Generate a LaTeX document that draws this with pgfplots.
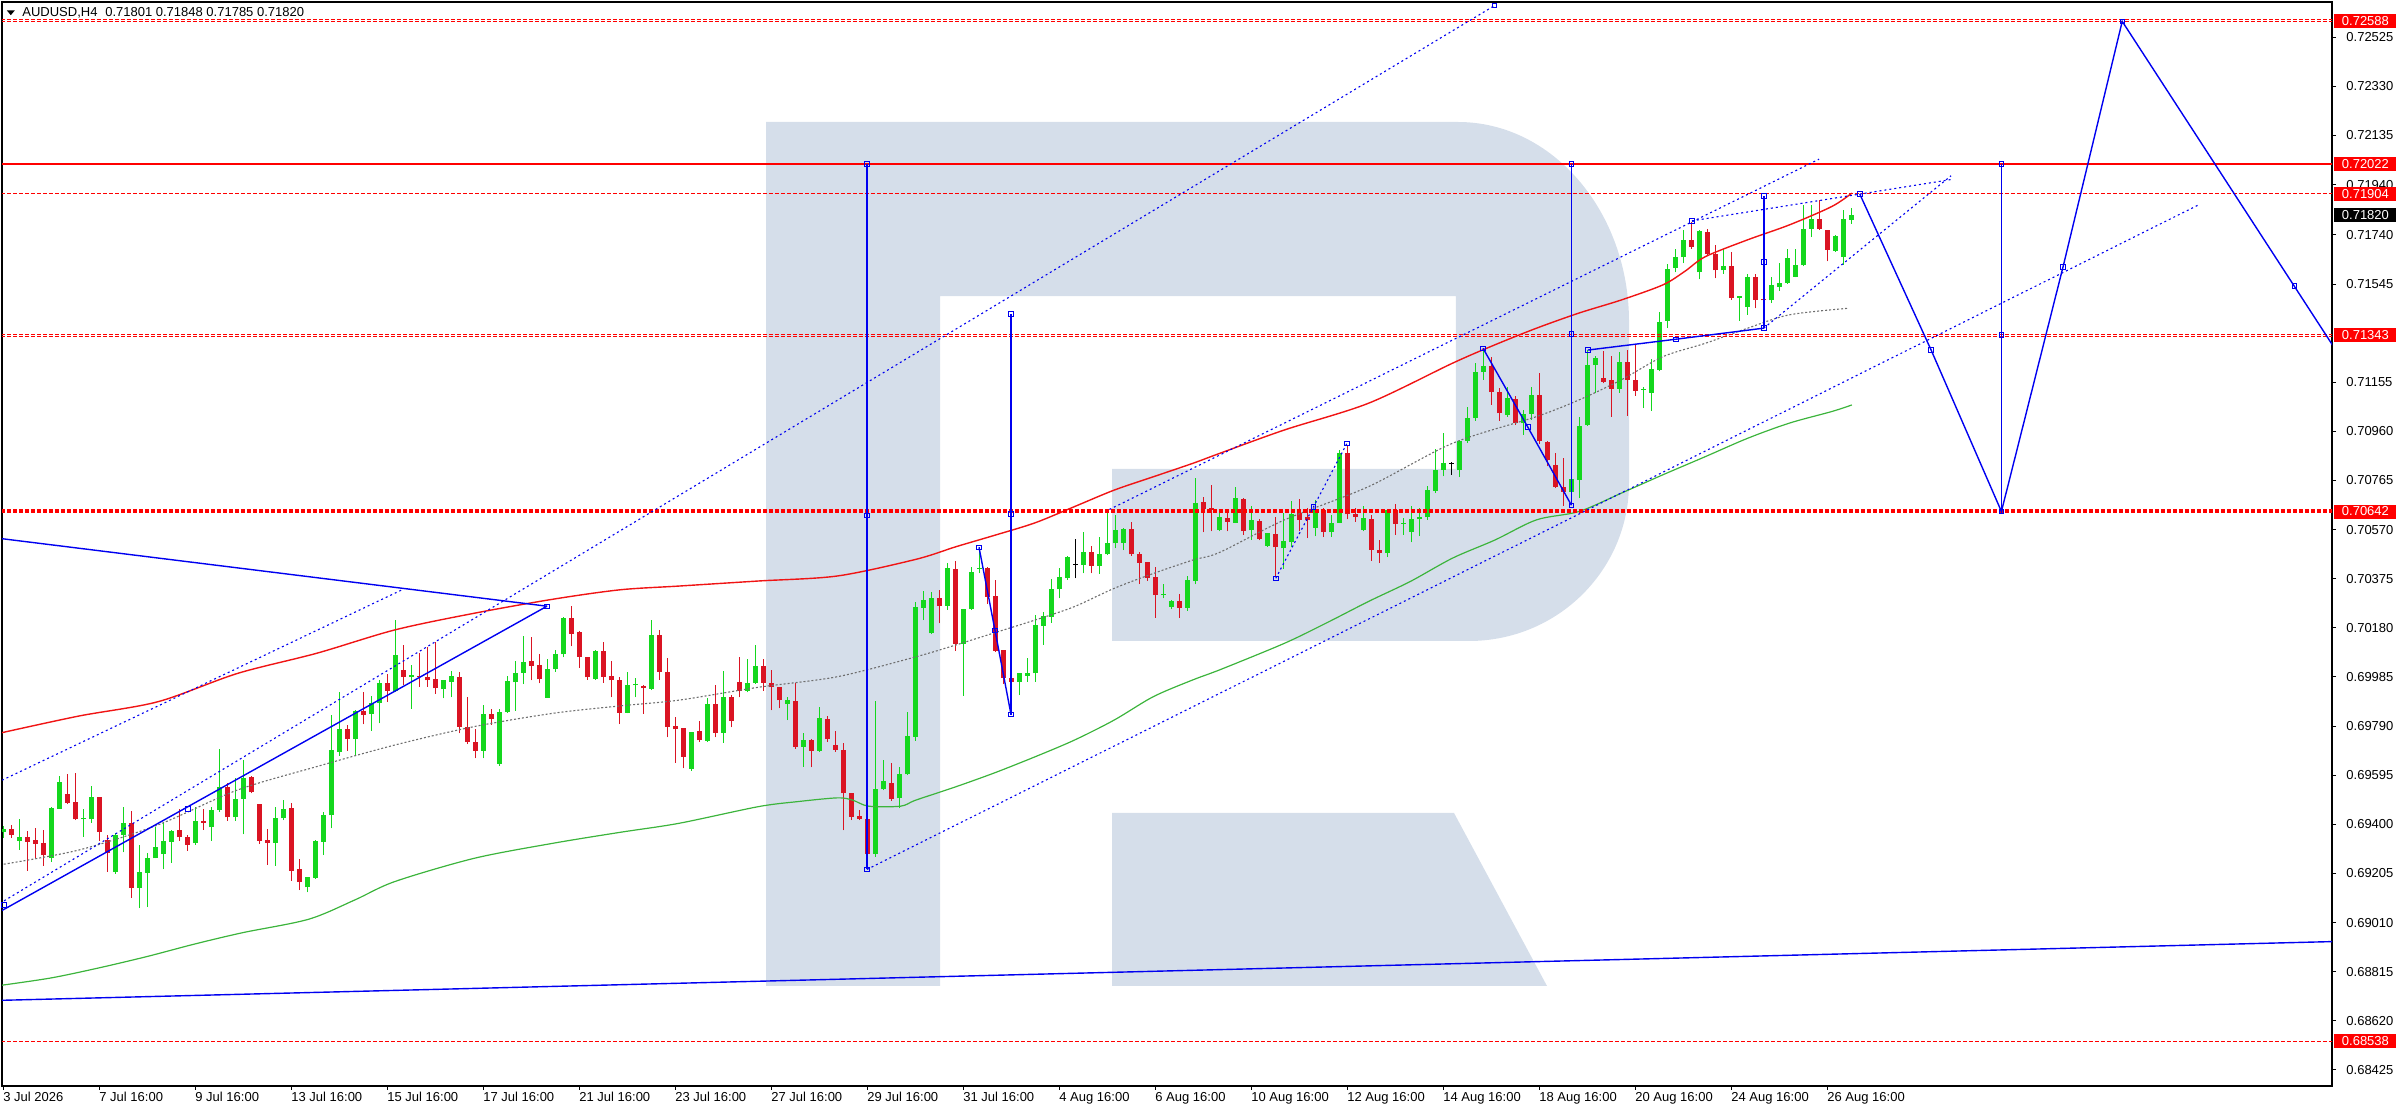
\documentclass[border=0pt]{standalone}
\usepackage{pgfplots}
\pgfplotsset{compat=1.18}
\usepackage{pgfplotstable}
\usepackage{fontspec}
\setmainfont{Liberation Sans}

\definecolor{bull}{RGB}{20,215,30}
\definecolor{bear}{RGB}{218,20,35}
\definecolor{mared}{RGB}{240,20,20}
\definecolor{magreen}{RGB}{60,180,60}
\definecolor{magray}{RGB}{110,110,110}
\definecolor{obj}{RGB}{0,0,240}
\definecolor{logo}{RGB}{213,222,234}
\definecolor{lvl}{RGB}{255,0,0}

\newcommand\lbl{\fontsize{6.5bp}{7.5bp}\selectfont}

% H4 candles: bar index, open, high, low, close
\pgfplotstableread{
i o h l c
0 0.69371 0.69394 0.69345 0.69382
1 0.69380 0.69397 0.69345 0.69359
2 0.69333 0.69421 0.69298 0.69349
3 0.69350 0.69374 0.69216 0.69331
4 0.69338 0.69384 0.69265 0.69323
5 0.69326 0.69378 0.69236 0.69277
6 0.69265 0.69470 0.69252 0.69465
7 0.69462 0.69593 0.69462 0.69568
8 0.69521 0.69600 0.69480 0.69484
9 0.69489 0.69603 0.69417 0.69420
10 0.69420 0.69460 0.69351 0.69421
11 0.69420 0.69554 0.69407 0.69510
12 0.69509 0.69509 0.69335 0.69371
13 0.69337 0.69358 0.69212 0.69288
14 0.69212 0.69367 0.69203 0.69358
15 0.69358 0.69470 0.69289 0.69405
16 0.69405 0.69453 0.69109 0.69149
17 0.69149 0.69318 0.69067 0.69212
18 0.69208 0.69285 0.69071 0.69265
19 0.69265 0.69391 0.69265 0.69311
20 0.69282 0.69411 0.69221 0.69334
21 0.69331 0.69378 0.69248 0.69374
22 0.69378 0.69461 0.69335 0.69349
23 0.69350 0.69358 0.69296 0.69319
24 0.69325 0.69470 0.69318 0.69413
25 0.69413 0.69461 0.69379 0.69407
26 0.69388 0.69470 0.69335 0.69457
27 0.69457 0.69701 0.69450 0.69548
28 0.69547 0.69563 0.69415 0.69428
29 0.69428 0.69583 0.69415 0.69501
30 0.69501 0.69656 0.69360 0.69584
31 0.69587 0.69593 0.69523 0.69527
32 0.69481 0.69481 0.69322 0.69334
33 0.69338 0.69382 0.69239 0.69325
34 0.69327 0.69470 0.69236 0.69424
35 0.69424 0.69497 0.69417 0.69460
36 0.69465 0.69486 0.69176 0.69216
37 0.69223 0.69262 0.69139 0.69170
38 0.69150 0.69192 0.69130 0.69190
39 0.69188 0.69338 0.69183 0.69335
40 0.69329 0.69450 0.69278 0.69437
41 0.69435 0.69834 0.69384 0.69695
42 0.69689 0.69924 0.69673 0.69779
43 0.69779 0.69795 0.69693 0.69738
44 0.69738 0.69854 0.69675 0.69850
45 0.69850 0.69924 0.69797 0.69836
46 0.69837 0.69911 0.69772 0.69882
47 0.69881 0.69973 0.69801 0.69961
48 0.69961 0.69997 0.69887 0.69931
49 0.69931 0.70211 0.69927 0.70073
50 0.70012 0.70110 0.69953 0.69984
51 0.69984 0.70033 0.69858 0.69992
52 0.69989 0.70079 0.69947 0.69984
53 0.69985 0.70103 0.69947 0.69971
54 0.69977 0.70123 0.69918 0.69940
55 0.69936 0.69973 0.69900 0.69972
56 0.69967 0.70010 0.69904 0.69989
57 0.69985 0.70004 0.69761 0.69788
58 0.69788 0.69904 0.69718 0.69726
59 0.69726 0.69779 0.69662 0.69693
60 0.69693 0.69874 0.69662 0.69837
61 0.69837 0.69857 0.69795 0.69818
62 0.69640 0.69857 0.69632 0.69845
63 0.69845 0.69990 0.69841 0.69969
64 0.69964 0.70047 0.69851 0.70000
65 0.70002 0.70149 0.69957 0.70046
66 0.70047 0.70145 0.69971 0.70030
67 0.70033 0.70076 0.69960 0.69975
68 0.69903 0.70055 0.69903 0.70016
69 0.70016 0.70092 0.70006 0.70075
70 0.70075 0.70225 0.70063 0.70221
71 0.70218 0.70267 0.70106 0.70157
72 0.70164 0.70169 0.70022 0.70066
73 0.70066 0.70066 0.69973 0.69983
74 0.69977 0.70092 0.69973 0.70088
75 0.70088 0.70122 0.69963 0.69986
76 0.69987 0.70048 0.69904 0.69971
77 0.69971 0.69986 0.69798 0.69842
78 0.69842 0.70006 0.69840 0.69953
79 0.69952 0.69979 0.69904 0.69959
80 0.69948 0.69952 0.69838 0.69940
81 0.69938 0.70211 0.69933 0.70151
82 0.70150 0.70171 0.69973 0.70006
83 0.70006 0.70059 0.69745 0.69787
84 0.69790 0.69827 0.69644 0.69777
85 0.69782 0.69783 0.69622 0.69668
86 0.69619 0.69768 0.69613 0.69766
87 0.69769 0.69811 0.69728 0.69733
88 0.69731 0.69900 0.69728 0.69876
89 0.69877 0.69953 0.69745 0.69764
90 0.69764 0.70008 0.69724 0.69905
91 0.69905 0.69913 0.69785 0.69811
92 0.69965 0.70063 0.69904 0.69930
93 0.69930 0.70055 0.69924 0.69963
94 0.69962 0.70110 0.69959 0.70027
95 0.70028 0.70056 0.69930 0.69962
96 0.69963 0.70012 0.69852 0.69944
97 0.69945 0.69945 0.69860 0.69892
98 0.69877 0.69904 0.69814 0.69893
99 0.69889 0.69963 0.69701 0.69708
100 0.69708 0.69761 0.69629 0.69734
101 0.69734 0.69740 0.69626 0.69692
102 0.69692 0.69864 0.69688 0.69821
103 0.69817 0.69831 0.69728 0.69737
104 0.69713 0.69772 0.69688 0.69697
105 0.69697 0.69724 0.69376 0.69523
106 0.69523 0.69523 0.69417 0.69430
107 0.69433 0.69457 0.69417 0.69421
108 0.69423 0.69423 0.69221 0.69284
109 0.69284 0.69888 0.69271 0.69539
110 0.69539 0.69655 0.69536 0.69572
111 0.69566 0.69642 0.69494 0.69500
112 0.69503 0.69629 0.69463 0.69599
113 0.69598 0.69846 0.69595 0.69750
114 0.69748 0.70284 0.69732 0.70261
115 0.70260 0.70327 0.70211 0.70290
116 0.70158 0.70321 0.70155 0.70297
117 0.70297 0.70330 0.70198 0.70268
118 0.70268 0.70439 0.70251 0.70417
119 0.70413 0.70447 0.70089 0.70116
120 0.70116 0.70255 0.69911 0.70253
121 0.70253 0.70423 0.70251 0.70400
122 0.70413 0.70500 0.70396 0.70416
123 0.70417 0.70423 0.70274 0.70304
124 0.70306 0.70372 0.70085 0.70089
125 0.70092 0.70094 0.69959 0.69982
126 0.69982 0.69986 0.69836 0.69966
127 0.69966 0.70002 0.69913 0.69999
128 0.69990 0.70059 0.69966 0.69999
129 0.69999 0.70233 0.69966 0.70191
130 0.70187 0.70241 0.70112 0.70227
131 0.70224 0.70374 0.70200 0.70334
132 0.70333 0.70416 0.70297 0.70382
133 0.70376 0.70465 0.70372 0.70462
134 0.70432 0.70531 0.70376 0.70432
135 0.70429 0.70562 0.70396 0.70482
136 0.70481 0.70505 0.70396 0.70427
137 0.70427 0.70539 0.70394 0.70472
138 0.70472 0.70645 0.70469 0.70517
139 0.70515 0.70628 0.70496 0.70568
140 0.70518 0.70575 0.70489 0.70572
141 0.70571 0.70601 0.70466 0.70472
142 0.70472 0.70482 0.70354 0.70439
143 0.70440 0.70443 0.70367 0.70379
144 0.70382 0.70420 0.70220 0.70310
145 0.70312 0.70353 0.70297 0.70313
146 0.70264 0.70290 0.70253 0.70286
147 0.70286 0.70314 0.70220 0.70260
148 0.70260 0.70386 0.70248 0.70370
149 0.70367 0.70775 0.70353 0.70676
150 0.70678 0.70701 0.70559 0.70651
151 0.70654 0.70748 0.70563 0.70646
152 0.70569 0.70649 0.70563 0.70622
153 0.70618 0.70651 0.70563 0.70602
154 0.70598 0.70739 0.70596 0.70695
155 0.70692 0.70695 0.70549 0.70563
156 0.70567 0.70662 0.70529 0.70609
157 0.70606 0.70611 0.70527 0.70532
158 0.70506 0.70556 0.70503 0.70556
159 0.70553 0.70622 0.70384 0.70500
160 0.70496 0.70635 0.70413 0.70523
161 0.70519 0.70684 0.70500 0.70633
162 0.70635 0.70691 0.70563 0.70609
163 0.70622 0.70655 0.70536 0.70609
164 0.70578 0.70686 0.70543 0.70646
165 0.70646 0.70655 0.70540 0.70560
166 0.70559 0.70629 0.70540 0.70596
167 0.70596 0.70887 0.70596 0.70876
168 0.70874 0.70907 0.70611 0.70631
169 0.70631 0.70655 0.70602 0.70622
170 0.70569 0.70662 0.70563 0.70615
171 0.70613 0.70629 0.70447 0.70490
172 0.70490 0.70529 0.70437 0.70476
173 0.70479 0.70651 0.70461 0.70646
174 0.70646 0.70672 0.70549 0.70593
175 0.70593 0.70615 0.70549 0.70596
176 0.70560 0.70662 0.70519 0.70613
177 0.70611 0.70655 0.70543 0.70622
178 0.70619 0.70744 0.70609 0.70728
179 0.70725 0.70889 0.70715 0.70807
180 0.70807 0.70953 0.70781 0.70834
181 0.70834 0.70840 0.70788 0.70834
182 0.70805 0.70926 0.70778 0.70923
183 0.70923 0.71056 0.70913 0.71015
184 0.71013 0.71231 0.71003 0.71194
185 0.71194 0.71290 0.71165 0.71218
186 0.71218 0.71257 0.71065 0.71116
187 0.71116 0.71132 0.71003 0.71032
188 0.71026 0.71136 0.71019 0.71092
189 0.71089 0.71099 0.70986 0.70995
190 0.70993 0.71046 0.70946 0.71030
191 0.71030 0.71136 0.71006 0.71105
192 0.71105 0.71191 0.70911 0.70920
193 0.70917 0.70920 0.70821 0.70847
194 0.70827 0.70874 0.70735 0.70739
195 0.70739 0.70854 0.70664 0.70721
196 0.70721 0.70774 0.70667 0.70770
197 0.70768 0.71019 0.70695 0.70983
198 0.70986 0.71284 0.70982 0.71223
199 0.71223 0.71260 0.71112 0.71251
200 0.71171 0.71280 0.71151 0.71158
201 0.71165 0.71260 0.71019 0.71129
202 0.71129 0.71277 0.71114 0.71235
203 0.71235 0.71284 0.71022 0.71165
204 0.71165 0.71308 0.71101 0.71122
205 0.71125 0.71136 0.71052 0.71128
206 0.71114 0.71247 0.71043 0.71207
207 0.71204 0.71433 0.71198 0.71396
208 0.71400 0.71625 0.71370 0.71604
209 0.71608 0.71684 0.71591 0.71652
210 0.71652 0.71760 0.71628 0.71721
211 0.71721 0.71793 0.71685 0.71694
212 0.71591 0.71760 0.71564 0.71754
213 0.71751 0.71763 0.71661 0.71665
214 0.71665 0.71701 0.71568 0.71599
215 0.71599 0.71685 0.71586 0.71617
216 0.71615 0.71674 0.71482 0.71489
217 0.71489 0.71496 0.71400 0.71496
218 0.71453 0.71586 0.71423 0.71572
219 0.71572 0.71586 0.71449 0.71482
220 0.71485 0.71496 0.71456 0.71480
221 0.71480 0.71575 0.71469 0.71542
222 0.71535 0.71628 0.71519 0.71551
223 0.71549 0.71685 0.71546 0.71648
224 0.71575 0.71685 0.71572 0.71621
225 0.71619 0.71860 0.71615 0.71764
226 0.71764 0.71860 0.71731 0.71804
227 0.71804 0.71879 0.71760 0.71763
228 0.71760 0.71760 0.71635 0.71681
229 0.71678 0.71741 0.71674 0.71737
230 0.71654 0.71840 0.71621 0.71804
231 0.71801 0.71848 0.71785 0.71820
}\candles

\tikzset{
  trend/.style={obj, line width=0.7bp},
  dotl/.style={obj, line width=0.55bp, dash pattern=on 1bp off 1.5bp},
  level/.style={lvl, line width=0.6bp, dash pattern=on 2bp off 1bp},
  pbox/.style={anchor=west, fill=#1, text=white, font=\lbl,
    minimum width=31bp, minimum height=7bp, inner sep=0pt},
}
\pgfplotsset{
  sq/.style={only marks, mark=square, mark size=1.1bp,
    mark options={obj, line width=0.5bp, solid, fill=none}},
  candle/.style 2 args={draw=none, no markers,
    error bars/y dir=plus, error bars/y explicit, error bars/error mark=none,
    error bars/error bar style={draw=#1, line width=#2, solid}},
}

\begin{document}
\begin{tikzpicture}
\begin{axis}[
  name=ax,
  scale only axis,
  width=1165bp, height=542bp,
  xmin=-0.125, xmax=291.125,
  ymin=0.68361, ymax=0.72665,
  clip mode=individual,
  axis line style={black, line width=0.6bp},
  tick align=outside,
  major tick length=2bp,
  tick style={black, line width=0.5bp},
  xtick pos=left,
  ytick pos=right,
  yticklabel pos=right,
  scaled y ticks=false,
  xtick={0,12,...,228},
  xticklabels={3 Jul 2026,7 Jul 16:00,9 Jul 16:00,13 Jul 16:00,15 Jul 16:00,
    17 Jul 16:00,21 Jul 16:00,23 Jul 16:00,27 Jul 16:00,29 Jul 16:00,
    31 Jul 16:00,4 Aug 16:00,6 Aug 16:00,10 Aug 16:00,12 Aug 16:00,
    14 Aug 16:00,18 Aug 16:00,20 Aug 16:00,24 Aug 16:00,26 Aug 16:00},
  ytick={0.68425,0.68620,0.68815,0.69010,0.69205,0.69400,0.69595,0.69790,
    0.69985,0.70180,0.70375,0.70570,0.70765,0.70960,0.71155,0.71545,
    0.71740,0.71940,0.72135,0.72330,0.72525},
  yticklabels={0.68425,0.68620,0.68815,0.69010,0.69205,0.69400,0.69595,0.69790,
    0.69985,0.70180,0.70375,0.70570,0.70765,0.70960,0.71155,0.71545,
    0.71740,0.71940,0.72135,0.72330,0.72525},
  xticklabel style={anchor=north west, inner sep=0pt, font=\lbl, yshift=-1bp},
  yticklabel style={anchor=west, inner sep=0pt, font=\lbl, xshift=5bp},
]

% watermark logo
\fill[logo] (rel axis cs:0.32790,0.88930) -- (rel axis cs:0.62489,0.88930)
  arc[start angle=90, end angle=0, x radius=85.5bp, y radius=100bp]
  -- (rel axis cs:0.69828,0.55627)
  arc[start angle=0, end angle=-90, x radius=80bp, y radius=79bp]
  -- (rel axis cs:0.47639,0.41052) -- (rel axis cs:0.47639,0.56919)
  -- (rel axis cs:0.62403,0.56919) -- (rel axis cs:0.62403,0.72878)
  -- (rel axis cs:0.40258,0.72878) -- (rel axis cs:0.40258,0.09225)
  -- (rel axis cs:0.32790,0.09225) -- cycle;
\fill[logo] (rel axis cs:0.47639,0.25185) -- (rel axis cs:0.62318,0.25185)
  -- (rel axis cs:0.66309,0.09225) -- (rel axis cs:0.47639,0.09225) -- cycle;

% candles
\addplot[candle={bull}{0.5bp}, restrict expr to domain={\thisrow{c}-\thisrow{o}}{0.000001:1}]
  table[x=i, y=l, y error expr={\thisrow{h}-\thisrow{l}}] {\candles};
\addplot[candle={bear}{0.5bp}, restrict expr to domain={\thisrow{o}-\thisrow{c}}{0.000001:1}]
  table[x=i, y=l, y error expr={\thisrow{h}-\thisrow{l}}] {\candles};
\addplot[candle={black}{0.5bp}, restrict expr to domain={abs(\thisrow{c}-\thisrow{o})}{0:0.0000005}]
  table[x=i, y=l, y error expr={\thisrow{h}-\thisrow{l}}] {\candles};
\addplot[candle={bull}{2.5bp}, restrict expr to domain={\thisrow{c}-\thisrow{o}}{0.000001:1}]
  table[x=i, y=o, y error expr={max(\thisrow{c}-\thisrow{o},0.00004)}] {\candles};
\addplot[candle={bear}{2.5bp}, restrict expr to domain={\thisrow{o}-\thisrow{c}}{0.000001:1}]
  table[x=i, y=c, y error expr={max(\thisrow{o}-\thisrow{c},0.00004)}] {\candles};
\addplot[candle={black}{2.5bp}, restrict expr to domain={abs(\thisrow{c}-\thisrow{o})}{0:0.0000005}]
  table[x=i, y expr={\thisrow{o}-0.00002}, y error expr={0.00004}] {\candles};

% moving averages
\addplot[mared, line width=0.7bp, smooth] coordinates {
 (-0.4,0.69762) (9.5,0.69830) (19.4,0.69887) (29.3,0.69999) (39.2,0.70079)
 (49.0,0.70172) (58.9,0.70238) (68.8,0.70294) (77.1,0.70331) (84.5,0.70346)
 (94.4,0.70366) (104.3,0.70386) (114.1,0.70452) (119.1,0.70502) (124.0,0.70548)
 (129.0,0.70597) (133.9,0.70661) (138.9,0.70727) (143.8,0.70780) (148.7,0.70833)
 (152.1,0.70873) (160.2,0.70966) (170.7,0.71072) (181.2,0.71231) (186.5,0.71304)
 (191.7,0.71370) (197.0,0.71430) (202.3,0.71482) (207.5,0.71542) (210.2,0.71595)
 (212.8,0.71654) (218.1,0.71721) (223.3,0.71780) (228.6,0.71853) (231.1,0.71906)};
\addplot[magreen, line width=0.6bp, smooth] coordinates {
 (-0.4,0.68760) (6,0.68790) (12,0.68830) (18,0.68875) (24,0.68925) (30,0.68970)
 (38.2,0.69023) (44,0.69100) (49.0,0.69173) (58.9,0.69265) (68.8,0.69325)
 (77.1,0.69368) (84.5,0.69404) (94.4,0.69470) (99.3,0.69490) (104.3,0.69505)
 (106.2,0.69496) (108.2,0.69472) (112.2,0.69472) (114.1,0.69496) (119.1,0.69549)
 (124.0,0.69605) (129.0,0.69668) (133.9,0.69734) (138.9,0.69814) (143.8,0.69907)
 (148.7,0.69973) (152.3,0.70016) (160.2,0.70119) (165.4,0.70199) (170.7,0.70285)
 (175.9,0.70364) (181.2,0.70457) (186.5,0.70529) (191.7,0.70609) (197.0,0.70642)
 (202.3,0.70715) (207.5,0.70788) (212.8,0.70860) (218.1,0.70933) (223.3,0.70993)
 (228.6,0.71039) (231.1,0.71065)};
\addplot[magray, line width=0.55bp, dash pattern=on 1bp off 1bp, smooth] coordinates {
 (-0.4,0.69239) (9.5,0.69298) (19.4,0.69398) (29.3,0.69536) (39.2,0.69629)
 (49.0,0.69715) (58.9,0.69788) (68.8,0.69841) (77.1,0.69870) (84.5,0.69893)
 (94.4,0.69944) (104.3,0.69986) (114.1,0.70065) (119.1,0.70112) (124.0,0.70161)
 (129.0,0.70211) (133.9,0.70264) (138.9,0.70337) (143.8,0.70396) (148.7,0.70449)
 (152.1,0.70480) (160.2,0.70609) (170.7,0.70741) (181.2,0.70913) (191.7,0.71019)
 (197.0,0.71085) (202.3,0.71165) (207.5,0.71257) (212.8,0.71310) (218.1,0.71370)
 (223.3,0.71423) (230.7,0.71449)};

% horizontal levels
\addplot[lvl, line width=0.6bp] coordinates {(-1,0.72022) (292,0.72022)};
\addplot[level] coordinates {(-1,0.72588) (292,0.72588)};
\addplot[level] coordinates {(-1,0.72596) (292,0.72596)};
\addplot[level] coordinates {(-1,0.71904) (292,0.71904)};
\addplot[level] coordinates {(-1,0.71337) (292,0.71337)};
\addplot[level] coordinates {(-1,0.71345) (292,0.71345)};
\addplot[level] coordinates {(-1,0.70640) (292,0.70640)};
\addplot[level] coordinates {(-1,0.70648) (292,0.70648)};
\addplot[level] coordinates {(-1,0.68538) (292,0.68538)};

% trend lines and channels
\addplot[trend] coordinates {(-0.4,0.68701) (292,0.68935)};
\addplot[trend] coordinates {(-0.125,0.70534) (68.0,0.70266)};
\addplot[trend] coordinates {(-0.4,0.69053) (68.0,0.70266)};
\addplot[dotl] coordinates {(-0.125,0.69575) (50.0,0.70333)};
\addplot[dotl] coordinates {(-0.4,0.69086) (186.4,0.72650)};
\addplot[dotl] coordinates {(108.0,0.69221) (274.6,0.71862)};
\addplot[dotl] coordinates {(138.3,0.70650) (227.0,0.72041)};
\addplot[dotl] coordinates {(211.1,0.71796) (243.7,0.71961)};
\addplot[dotl] coordinates {(220.1,0.71370) (243.5,0.71975)};
\addplot[dotl] coordinates {(159.1,0.70377) (168.0,0.70913)};
% measured swings
\addplot[trend] coordinates {(108.0,0.69221) (108.0,0.72022)};
\addplot[trend] coordinates {(122.0,0.70500) (124.0,0.70170) (126.0,0.69836)};
\addplot[trend] coordinates {(126.0,0.69836) (126.0,0.71426)};
\addplot[trend] coordinates {(185.0,0.71290) (190.6,0.70977) (196.05,0.70667)};
\addplot[trend] coordinates {(196.05,0.70667) (196.05,0.72022)};
\addplot[trend] coordinates {(198.1,0.71283) (209.1,0.71326) (220.1,0.71370)};
\addplot[trend] coordinates {(220.1,0.71370) (220.1,0.71895)};
% forecast path
\addplot[trend] coordinates {(232.1,0.71902) (241.0,0.71284) (249.8,0.70642)
  (257.5,0.71613) (264.9,0.72588) (286.4,0.71537) (292,0.71263)};
\addplot[trend] coordinates {(249.8,0.70642) (249.8,0.72022)};

\addplot[sq] coordinates {
 (0.1,0.69080) (23.1,0.69460) (68.0,0.70266) (186.4,0.72650)
 (108.0,0.69221) (108.0,0.70627) (108.0,0.72022)
 (122.0,0.70500) (124.0,0.70170) (126.0,0.69836) (126.0,0.70632) (126.0,0.71426)
 (159.1,0.70377) (163.8,0.70660) (168.0,0.70913)
 (185.0,0.71290) (190.6,0.70977) (196.05,0.70667) (196.05,0.71346) (196.05,0.72022)
 (198.1,0.71283) (209.1,0.71326) (220.1,0.71370) (220.1,0.71632) (220.1,0.71895)
 (211.1,0.71796)
 (232.1,0.71902) (241.0,0.71284) (249.8,0.70642) (257.5,0.71613) (264.9,0.72588)
 (286.4,0.71537) (249.8,0.71343) (249.8,0.72022)};

\coordinate (b1) at (axis cs:291.125,0.72588);
\coordinate (b2) at (axis cs:291.125,0.72022);
\coordinate (b3) at (axis cs:291.125,0.71904);
\coordinate (b4) at (axis cs:291.125,0.71820);
\coordinate (b5) at (axis cs:291.125,0.71343);
\coordinate (b6) at (axis cs:291.125,0.70642);
\coordinate (b7) at (axis cs:291.125,0.68538);
\end{axis}

\node[pbox=lvl] at ([xshift=1bp]b1) {0.72588};
\node[pbox=lvl] at ([xshift=1bp]b2) {0.72022};
\node[pbox=lvl] at ([xshift=1bp]b3) {0.71904};
\node[pbox=black] at ([xshift=1bp]b4) {0.71820};
\node[pbox=lvl] at ([xshift=1bp]b5) {0.71343};
\node[pbox=lvl] at ([xshift=1bp]b6) {0.70642};
\node[pbox=lvl] at ([xshift=1bp]b7) {0.68538};

\fill ([xshift=2.4bp,yshift=-4.2bp]ax.north west) -- ++(4bp,0) -- ++(-2bp,-2.4bp) -- cycle;
\node[anchor=west, inner sep=0pt, font=\lbl] at ([xshift=10bp,yshift=-5.5bp]ax.north west)
  {AUDUSD,H4\hspace{0.6em}0.71801 0.71848 0.71785 0.71820};

\pgfresetboundingbox
\path ([xshift=-1bp,yshift=-12bp]ax.south west) rectangle ([xshift=32bp,yshift=1bp]ax.north east);
\end{tikzpicture}
\end{document}
